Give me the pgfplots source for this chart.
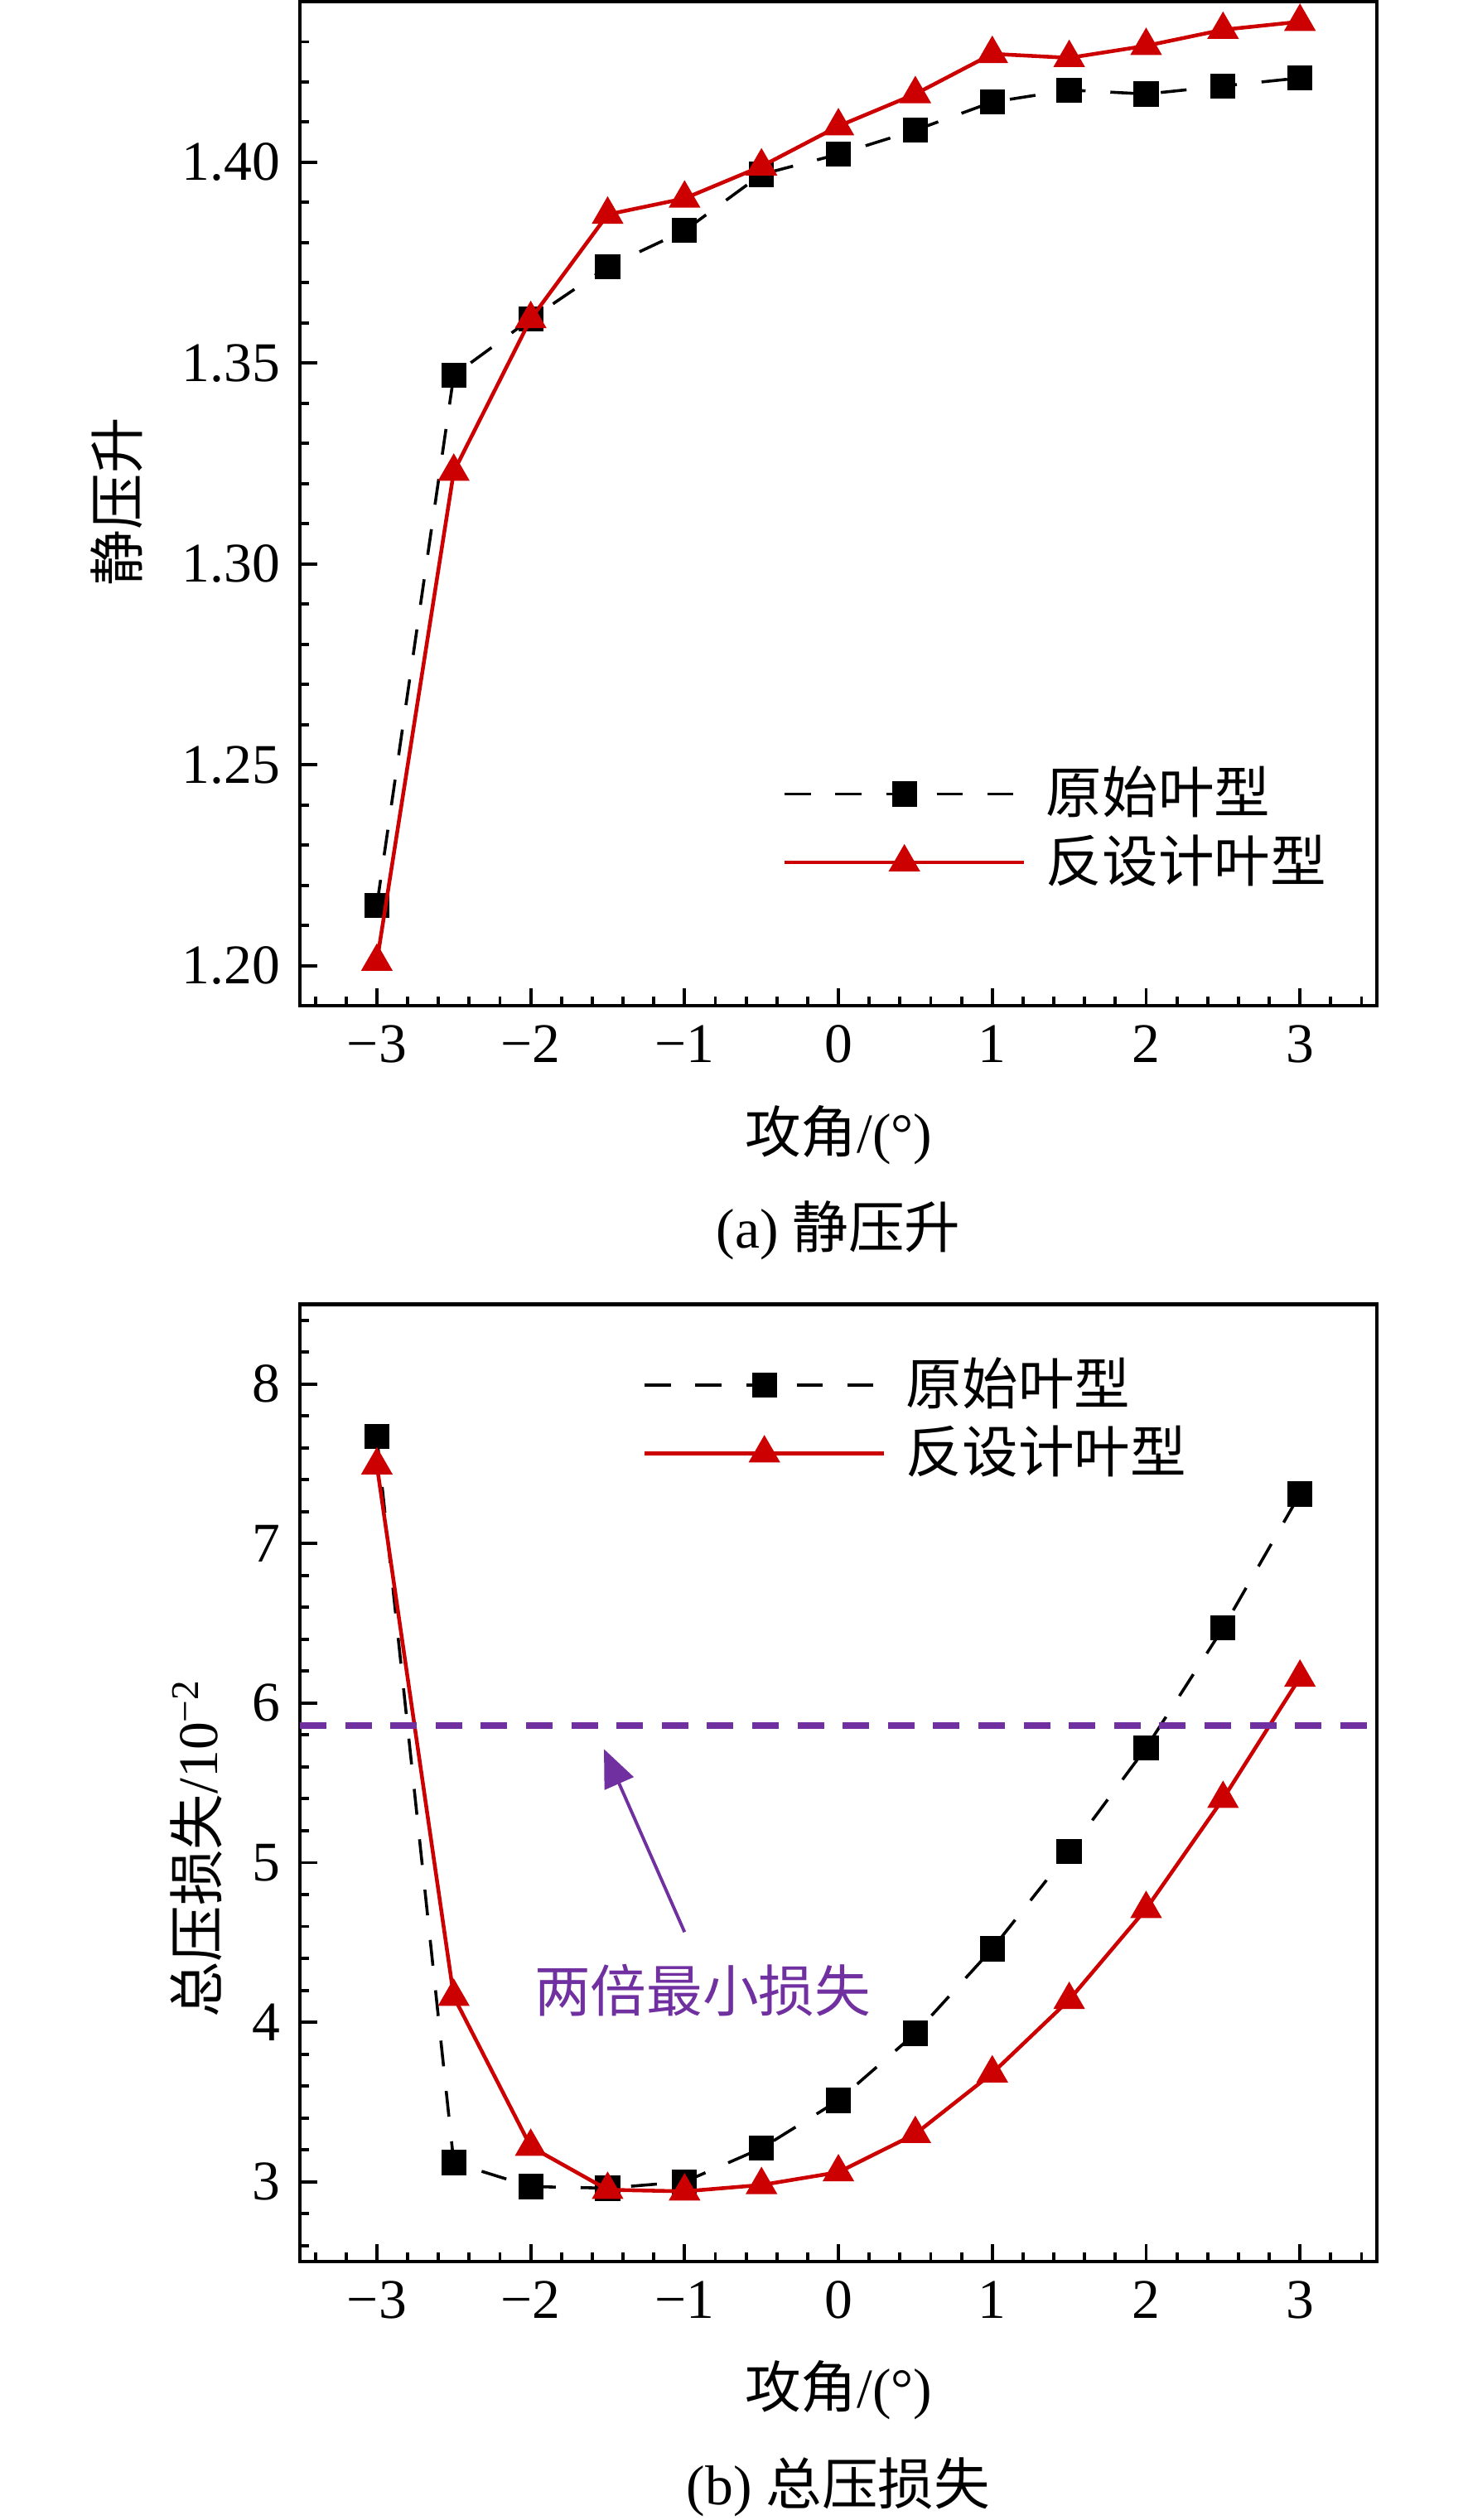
\documentclass[border=0pt]{standalone}
\usepackage{fontspec}
\setmainfont{Liberation Serif}
\newfontfamily\cjk{Noto Sans CJK SC}
\usepackage{pgfplots}
\pgfplotsset{compat=1.18}
\usetikzlibrary{arrows.meta}
\definecolor{myred}{RGB}{204,0,0}
\definecolor{mypurple}{RGB}{112,48,160}
\pgfplotsset{
  myaxis/.style={
    scale only axis, width=200pt,
    xmin=-3.5, xmax=3.5,
    xtick={-3,-2,-1,0,1,2,3},
    xticklabels={−3,−2,−1,0,1,2,3},
    minor xtick={-3.4,-3.2,...,3.4},
    tick pos=left, tick align=inside,
    major tick length=3.2pt, minor tick length=1.7pt,
    every tick/.style={black, line width=0.6pt},
    axis line style={line width=0.7pt},
    clip mode=individual,
    legend cell align=left,
    legend style={draw=none, fill=none, inner sep=0pt, row sep=0pt, column sep=2.6pt,
      nodes={inner sep=1.2pt}},
    legend image code/.code={\draw[mark repeat=2,mark phase=2,##1] plot coordinates {(0pt,0pt) (22.2pt,0pt) (44.4pt,0pt)};},
    blackser/.style={black, line width=0.55pt, dash pattern=on 4.8pt off 4.6pt,
      mark=square*, mark size=2.05pt, mark options={solid, fill=black}},
    redser/.style={myred, line width=0.7pt, solid,
      mark=triangle*, mark size=2.7pt, mark options={solid, fill=myred}},
  }
}
\begin{document}
\fontsize{10.4}{12.5}\selectfont
\begin{tikzpicture}
\useasboundingbox (0pt,0pt) rectangle (272.6pt,-468pt);
\begin{axis}[myaxis, at={(55.7pt,-186.8pt)}, anchor=south west, height=186.5pt,
  ymin=1.19, ymax=1.44,
  ytick={1.20,1.25,1.30,1.35,1.40},
  yticklabels={1.20,1.25,1.30,1.35,1.40},
  minor ytick={1.19,1.20,...,1.44},
  ylabel={\cjk 静压升},
  y label style={at={(axis description cs:-0.170,0.502)}, anchor=center},
  xlabel={{\cjk 攻角}/(°)},
  x label style={at={(axis description cs:0.5,-0.129)}, anchor=center},
  legend style={at={(axis description cs:0.4475,0.177)}, anchor=west},
]
\addplot[blackser] coordinates {(-3,1.215) (-2.5,1.347) (-2,1.361) (-1.5,1.374) (-1,1.383) (-0.5,1.397) (0,1.402) (0.5,1.408) (1,1.415) (1.5,1.418) (2,1.417) (2.5,1.419) (3,1.421)};
\addlegendentry{\cjk 原始叶型}
\addplot[redser] coordinates {(-3,1.201) (-2.5,1.323) (-2,1.361) (-1.5,1.387) (-1,1.391) (-0.5,1.399) (0,1.409) (0.5,1.417) (1,1.427) (1.5,1.426) (2,1.429) (2.5,1.433) (3,1.435)};
\addlegendentry{\cjk 反设计叶型}
\node[anchor=center] at (axis description cs:0.5,-0.224) {(a) {\cjk 静压升}};
\end{axis}
\begin{axis}[myaxis, at={(55.7pt,-420pt)}, anchor=south west, height=177.8pt,
  ymin=2.5, ymax=8.5,
  ytick={3,4,5,6,7,8},
  yticklabels={3,4,5,6,7,8},
  minor ytick={2.6,2.8,...,8.4},
  ylabel={{\cjk 总压损失}/10\textsuperscript{−2}},
  y label style={at={(axis description cs:-0.096,0.432)}, anchor=center},
  xlabel={{\cjk 攻角}/(°)},
  x label style={at={(axis description cs:0.5,-0.134)}, anchor=center},
  legend style={at={(axis description cs:0.3175,0.880)}, anchor=west},
]
\addplot[blackser] coordinates {(-3,7.67) (-2.5,3.12) (-2,2.97) (-1.5,2.96) (-1,3.00) (-0.5,3.21) (0,3.51) (0.5,3.93) (1,4.46) (1.5,5.07) (2,5.72) (2.5,6.47) (3,7.31)};
\addlegendentry{\cjk 原始叶型}
\addplot[redser] coordinates {(-3,7.49) (-2.5,4.16) (-2,3.22) (-1.5,2.95) (-1,2.94) (-0.5,2.98) (0,3.06) (0.5,3.30) (1,3.68) (1.5,4.14) (2,4.71) (2.5,5.40) (3,6.16)};
\addlegendentry{\cjk 反设计叶型}
\addplot[mypurple, line width=1.3pt, dash pattern=on 4.9pt off 3.5pt, forget plot] coordinates {(-3.5,5.86) (3.5,5.86)};
\draw[mypurple, line width=0.6pt, -{Triangle[length=7pt,width=5.8pt]}] (axis cs:-1.0,4.565) -- (axis cs:-1.524,5.712);
\node[mypurple, anchor=center] at (axis cs:-0.883,4.20) {\cjk 两倍最小损失};
\node[anchor=center] at (axis description cs:0.5,-0.236) {(b) {\cjk 总压损失}};
\end{axis}
\end{tikzpicture}
\end{document}
